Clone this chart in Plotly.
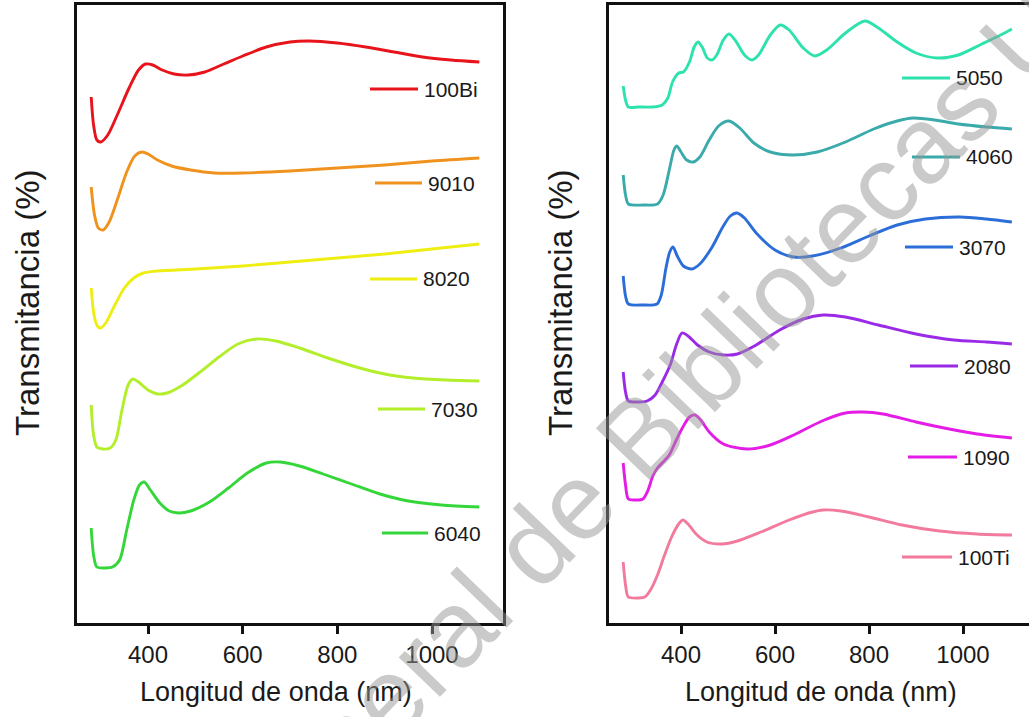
import plotly.graph_objects as go

# ---------------- data (transmittance, arbitrary offset units) ----------------
wl_100Bi = [280, 285, 292, 300, 315, 335, 360, 380, 395, 410, 430, 455, 485, 520, 560, 600, 650, 700, 740, 800, 860, 920, 980, 1040, 1100]
t_100Bi = [526, 498, 483, 481, 488, 508, 535, 553, 559, 558, 553, 549, 548, 551, 559, 567, 576, 581, 582, 580, 576, 571, 566, 563, 561]

wl_9010 = [280, 287, 295, 305, 318, 335, 355, 372, 387, 400, 420, 450, 490, 540, 600, 700, 800, 900, 1000, 1100]
t_9010 = [436, 408, 395, 393, 401, 423, 451, 467, 471, 469, 463, 457, 453, 450, 450, 452, 455, 458, 462, 465]

wl_8020 = [280, 286, 293, 300, 312, 330, 350, 370, 390, 420, 500, 600, 700, 800, 900, 1000, 1100]
t_8020 = [335, 308, 297, 295, 301, 318, 335, 345, 350, 352, 354, 357, 361, 365, 369, 374, 379]

wl_7030 = [280, 285, 292, 305, 320, 332, 345, 358, 368, 380, 400, 420, 440, 470, 510, 550, 590, 630, 670, 720, 780, 840, 900, 960, 1030, 1100]
t_7030 = [218, 188, 176, 174, 175, 183, 213, 238, 244, 241, 233, 229, 230, 237, 251, 266, 279, 284, 282, 275, 265, 256, 249, 245, 243, 242]

wl_6040 = [280, 285, 292, 310, 325, 340, 355, 370, 382, 392, 405, 425, 445, 465, 490, 530, 570, 610, 650, 680, 720, 770, 830, 890, 950, 1020, 1100]
t_6040 = [95, 68, 56, 55, 56, 63, 93, 123, 138, 141, 133, 120, 112, 110, 112, 121, 135, 150, 160, 161, 157, 149, 139, 129, 122, 118, 116]

wl_5050 = [277, 282, 288, 310, 340, 360, 372, 382, 395, 405, 418, 428, 436, 445, 456, 466, 476, 490, 502, 515, 535, 551, 565, 590, 611, 630, 660, 685, 710, 750, 791, 820, 860, 900, 945, 990, 1040, 1080, 1104]
t_5050 = [537, 523, 516, 516, 516, 518, 525, 541, 550, 551, 561, 576, 581, 576, 565, 563, 568, 583, 589, 583, 568, 563, 568, 588, 598, 593, 575, 567, 573, 590, 602, 595, 581, 570, 565, 568, 579, 588, 594]

wl_4060 = [277, 282, 288, 320, 350, 362, 375, 385, 391, 400, 412, 426, 440, 460, 480, 502, 525, 555, 590, 638, 690, 750, 810, 860, 894, 940, 990, 1050, 1104]
t_4060 = [448, 428, 419, 418, 419, 428, 453, 473, 477, 471, 463, 461, 466, 483, 497, 502, 495, 480, 471, 468, 471, 481, 494, 502, 505, 503, 499, 496, 494]

wl_3070 = [277, 282, 288, 320, 349, 358, 368, 376, 383, 392, 405, 423, 440, 465, 490, 505, 519, 535, 560, 600, 640, 680, 740, 800, 860, 920, 994, 1050, 1104]
t_3070 = [347, 327, 319, 318, 319, 328, 355, 371, 376, 367, 357, 354, 359, 375, 397, 407, 410, 405, 390, 373, 366, 367, 375, 387, 398, 404, 406, 404, 401]

wl_2080 = [277, 282, 288, 310, 328, 345, 360, 377, 390, 402, 415, 435, 460, 490, 520, 560, 610, 660, 702, 750, 820, 900, 980, 1050, 1104]
t_2080 = [251, 231, 222, 221, 222, 228, 241, 258, 278, 290, 287, 278, 271, 268, 269, 278, 293, 304, 308, 306, 298, 289, 283, 281, 279]

wl_1090 = [277, 282, 288, 305, 319, 330, 340, 350, 362, 375, 390, 404, 418, 430, 442, 460, 490, 540, 590, 640, 700, 750, 787, 830, 900, 960, 1030, 1104]
t_1090 = [160, 138, 124, 123, 124, 133, 147, 155, 161, 168, 183, 196, 206, 208, 203, 191, 179, 174, 178, 188, 202, 210, 211, 209, 201, 195, 189, 185]

wl_100Ti = [277, 282, 288, 310, 323, 335, 350, 365, 380, 395, 404, 415, 432, 455, 487, 520, 570, 630, 680, 702, 740, 800, 870, 950, 1030, 1104]
t_100Ti = [61, 38, 26, 25, 26, 33, 48, 68, 86, 99, 103, 99, 89, 81, 79, 82, 91, 103, 111, 113, 112, 106, 98, 92, 89, 88]

left_names = ["100Bi", "9010", "8020", "7030", "6040"]
right_names = ["5050", "4060", "3070", "2080", "1090", "100Ti"]

x_ticks = [400, 600, 800, 1000]
x_title = "Longitud de onda (nm)"
y_title = "Transmitancia (%)"
watermark = "Dirección General de Bibliotecas UAQ"

# ---------------- styling ----------------
W, H = 1029, 717
ML, MR, MT, MB = 77, 0, 5, 94
PW, PH = W - ML - MR, H - MT - MB
FONT = "Liberation Sans, Arial, sans-serif"
TXT = "#1a1a1a"

def px(xp):
    return (xp - ML) / PW

def py(yp):
    return (MT + PH - yp) / PH

colors = {
    "100Bi": "#E8141C", "9010": "#F0921E", "8020": "#EEEE12", "7030": "#B2EE2A",
    "6040": "#34D63A", "5050": "#2EE2AE", "4060": "#3AAAAA", "3070": "#2C6ED8",
    "2080": "#9A2AE6", "1090": "#E41CE6", "100Ti": "#F27A9C",
}
# legend sample positions (pixel: line x0, x1, y)
legend_pos = {
    "100Bi": (370, 418, 89), "9010": (375, 422, 183), "8020": (370, 417, 279),
    "7030": (378, 425, 409), "6040": (382, 428, 533),
    "5050": (902, 950, 78), "4060": (912, 960, 157), "3070": (905, 953, 247),
    "2080": (910, 958, 366), "1090": (908, 957, 457), "100Ti": (902, 952, 557),
}

series = {
    "100Bi": (wl_100Bi, t_100Bi), "9010": (wl_9010, t_9010), "8020": (wl_8020, t_8020),
    "7030": (wl_7030, t_7030), "6040": (wl_6040, t_6040),
    "5050": (wl_5050, t_5050), "4060": (wl_4060, t_4060), "3070": (wl_3070, t_3070),
    "2080": (wl_2080, t_2080), "1090": (wl_1090, t_1090), "100Ti": (wl_100Ti, t_100Ti),
}

fig = go.Figure()
for name in left_names + right_names:
    wl, t = series[name]
    right = name in right_names
    fig.add_trace(go.Scatter(
        x=wl, y=t, mode="lines", name=name,
        line=dict(color=colors[name], width=2.9, shape="spline", smoothing=0.8),
        xaxis="x2" if right else "x", yaxis="y2" if right else "y",
        showlegend=False,
    ))

shapes = []
annotations = []
for name, (x0, x1, yy) in legend_pos.items():
    shapes.append(dict(type="line", xref="paper", yref="paper",
                       x0=px(x0), x1=px(x1), y0=py(yy), y1=py(yy),
                       line=dict(color=colors[name], width=2.9)))
    annotations.append(dict(xref="paper", yref="paper", x=px(x1 + 4), y=py(yy),
                            text=name, showarrow=False, xanchor="left", yanchor="middle",
                            font=dict(size=21, color=TXT, family=FONT)))

# axis titles
for cx in (276, 821):
    annotations.append(dict(xref="paper", yref="paper", x=px(cx), y=py(692), text=x_title,
                            showarrow=False, xanchor="center", yanchor="middle",
                            font=dict(size=27, color=TXT, family=FONT)))
for cx in (27, 560):
    annotations.append(dict(xref="paper", yref="paper", x=px(cx), y=py(303), text=y_title,
                            showarrow=False, textangle=-90, xanchor="center", yanchor="middle",
                            font=dict(size=33, color=TXT, family=FONT)))

annotations.append(dict(xref="paper", yref="paper", x=px(526), y=py(553), text=watermark,
                        showarrow=False, textangle=-46, xanchor="center", yanchor="middle",
                        font=dict(size=108, color="rgba(150,150,150,0.5)", family=FONT)))

axis_common = dict(showgrid=False, zeroline=False, linecolor="#111", linewidth=2.5,
                   showline=True)
xcommon = dict(axis_common, tickvals=x_ticks, ticks="outside", ticklen=8, tickwidth=2.5,
               tickcolor="#111", tickfont=dict(size=24, color=TXT))
ycommon = dict(axis_common, showticklabels=False, ticks="", range=[0, PH])

fig.update_layout(
    width=W, height=H,
    margin=dict(l=ML, r=MR, t=MT, b=MB),
    paper_bgcolor="white", plot_bgcolor="white",
    font=dict(family=FONT),
    xaxis=dict(xcommon, domain=[0, px(503)], range=[250, 1150], mirror=True, anchor="y"),
    yaxis=dict(ycommon, domain=[0, 1], mirror=True, anchor="x"),
    xaxis2=dict(xcommon, domain=[px(609), 1], range=[246.8, 1140.4], mirror=True, anchor="y2"),
    yaxis2=dict(ycommon, domain=[0, 1], mirror=False, anchor="x2"),
    shapes=shapes, annotations=annotations,
)

fig.write_html("out.html")
